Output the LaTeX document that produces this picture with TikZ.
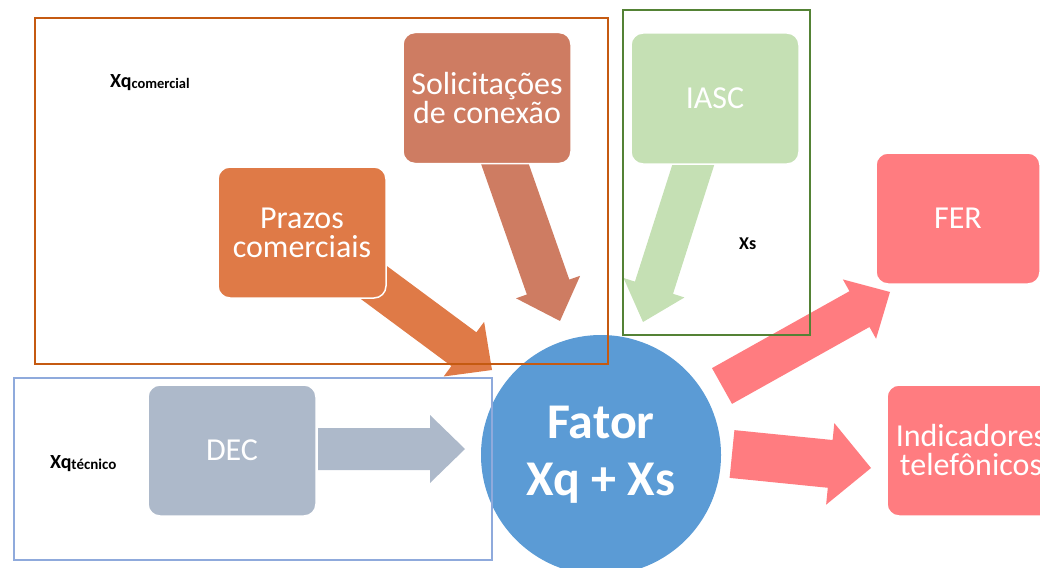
\documentclass[tikz,border=0pt]{standalone}
\usepackage{fontspec}
\setmainfont{Carlito}
\usetikzlibrary{calc}
\definecolor{frameorange}{RGB}{197,90,17}
\definecolor{framegreen}{RGB}{84,130,53}
\definecolor{frameblue}{RGB}{143,170,220}
\definecolor{solic}{RGB}{206,124,98}
\definecolor{prazos}{RGB}{223,122,71}
\definecolor{iasc}{RGB}{197,224,180}
\definecolor{pinkred}{RGB}{255,124,128}
\definecolor{decgray}{RGB}{173,185,202}
\definecolor{circblue}{RGB}{91,155,213}
% block arrow: #1 tail, #2 tip, #3 half shaft width, #4 half head width, #5 head length, #6 colour
\newcommand{\blockarr}[6]{%
  \coordinate (ba) at ($(#2)!#5pt!(#1)$);
  \fill[#6] ($(#1)!#3pt!90:(#2)$) -- ($(ba)!#3pt!90:(#2)$) -- ($(ba)!#4pt!90:(#2)$)
    -- (#2) -- ($(ba)!#4pt!-90:(#2)$) -- ($(ba)!#3pt!-90:(#2)$)
    -- ($(#1)!#3pt!-90:(#2)$) -- cycle;}
\begin{document}
\begin{tikzpicture}[x=1pt,y=-1pt,
  box/.style={rounded corners=12pt, draw=white, line width=1.5pt, text=white,
    font=\fontsize{32}{29}\selectfont, align=center,
    minimum width=168pt, minimum height=131pt, inner sep=0pt},
  frame/.style={line width=2.5pt},
  lbl/.style={inner sep=0pt, text=black}
]
\useasboundingbox (0,0) rectangle (1040,567);
\clip (0,0) rectangle (1040,567);

% arrow end points
\coordinate (t1) at (330,250); \coordinate (h1) at (492,370);
\coordinate (t2) at (500,150); \coordinate (h2) at (560,321);
\coordinate (t3) at (698,150); \coordinate (h3) at (643,322);
\coordinate (t6) at (318,449); \coordinate (h6) at (465,449);
\coordinate (t4) at (722,386); \coordinate (h4) at (890,292);
\coordinate (t5) at (732,454); \coordinate (h5) at (871,468);

\blockarr{t1}{h1}{21}{34}{35}{prazos}
\blockarr{t2}{h2}{22.5}{34}{36}{solic}
\blockarr{t3}{h3}{20}{32}{36}{iasc}
\blockarr{t6}{h6}{21}{34}{35}{decgray}
\blockarr{t4}{h4}{20.5}{34}{35}{pinkred}
\blockarr{t5}{h5}{24}{41}{41}{pinkred}

% boxes
\node[box, fill=solic] (solicbox) at (487,98) {Solicitações\\de conexão};
\node[box, fill=prazos] (prazosbox) at (302,232.5) {Prazos\\comerciais};
\node[box, fill=iasc] (iascbox) at (715,98.5) {IASC};
\node[box, fill=pinkred, minimum width=164pt] (ferbox) at (958,218.5) {FER};
\node[box, fill=pinkred] (indicbox) at (971,450.5) {Indicadores\\telefônicos};
\node[box, fill=decgray] (decbox) at (232,450.5) {DEC};

% central circle
\node[circle, fill=circblue, minimum size=240pt, inner sep=0pt, text=white,
  font=\bfseries\fontsize{50}{57}\selectfont, align=center] (fator) at (601,455)
  {Fator\\Xq + Xs};

% frames
\draw[frame, draw=frameorange] (35,18) rectangle (608,364);
\draw[frame, draw=framegreen] (623,10) rectangle (810,335);
\draw[frame, draw=frameblue] (14,378) rectangle (492,560);

% labels
\node[lbl, anchor=base west] (xqc) at (110,88)
  {\bfseries\fontsize{20}{20}\selectfont Xq\raisebox{-1pt}{\fontsize{14.5}{14.5}\selectfont comercial}};
\node[lbl, anchor=base west] (xqt) at (50,468)
  {\bfseries\fontsize{20}{20}\selectfont Xq\raisebox{-1pt}{\fontsize{15}{15}\selectfont técnico}};
\node[lbl, anchor=base west] (xs) at (739,249)
  {\bfseries\fontsize{18}{18}\selectfont Xs};
\end{tikzpicture}
\end{document}
